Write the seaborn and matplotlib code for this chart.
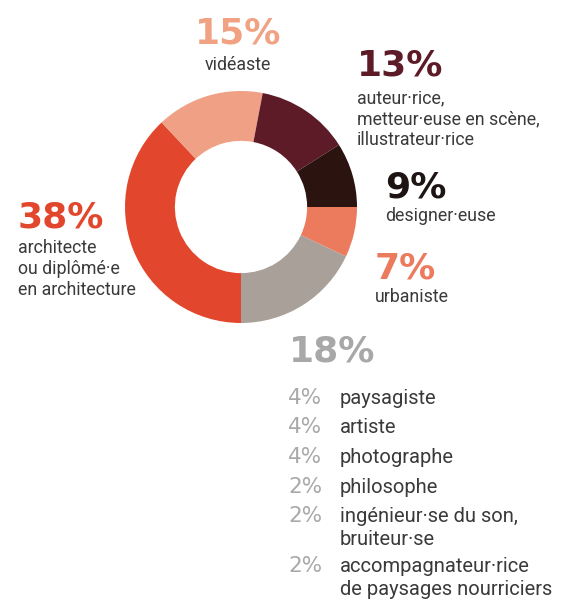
import matplotlib
matplotlib.use("Agg")
import matplotlib.pyplot as plt
import seaborn as sns

sns.set_theme(style="white")
plt.rcParams['font.family'] = ['Roboto', 'DejaVu Sans']

# donut data (clockwise from 6 o'clock)
shares = [38, 15, 13, 9, 7, 18]
pct_labels = ["38%", "15%", "13%", "9%", "7%", "18%"]
names = ["architecte\nou diplômé·e\nen architecture",
         "vidéaste",
         "auteur·rice,\nmetteur·euse en scène,\nillustrateur·rice",
         "designer·euse",
         "urbaniste",
         ""]
colors = ["#E2472D", "#EFA085", "#5C1B27", "#2B1410", "#EC7B5D", "#A9A199"]
text_colors = ["#E2472D", "#F0A283", "#5C1B27", "#1E1414", "#EC7B5D", "#A8A8A8"]

# breakdown of the 18% "other"
other_pct = ["4%", "4%", "4%", "2%", "2%", "2%"]
other_names = ["paysagiste", "artiste", "photographe", "philosophe",
               "ingénieur·se du son,\nbruiteur·se",
               "accompagnateur·rice\nde paysages nourriciers"]

W, H = 565, 600
fig = plt.figure(figsize=(W / 100, H / 100), dpi=100)
fig.patch.set_facecolor("white")

def px(x, y):
    return x / W, 1 - y / H

def lines(x, y, txt, step=21, **kw):
    # one text per line, baseline at y, y+step, ...
    for k, line in enumerate(txt.split("\n")):
        fig.text(*px(x, y + k * step), line, va="baseline", **kw)

# donut axes: centre (241, 207), radius 116 px
cx, cy, r = 241, 207, 116
ax = fig.add_axes([(cx - r) / W, 1 - (cy + r) / H, 2 * r / W, 2 * r / H])
ax.pie(shares, colors=colors, startangle=270, counterclock=False,
       radius=1, wedgeprops=dict(width=0.43, linewidth=0))
ax.set_xlim(-1, 1)
ax.set_ylim(-1, 1)
ax.axis("off")

big = 26
small = 12.8
big_font = ["DejaVu Sans"]

# label anchors: (x, y of big number, baseline of first text line, ha)
anchors = [
    (18, 217, 253, "left"),
    (238, 34, 70, "center"),
    (357, 66, 103, "left"),
    (385, 188, 221, "left"),
    (375, 269, 302, "left"),
]
for i, (x, yb, yt, ha) in enumerate(anchors):
    fig.text(*px(x, yb), pct_labels[i], color=text_colors[i], fontsize=big,
             fontweight="bold", family=big_font, ha=ha, va="center")
    lines(x, yt, names[i], color="#3A3A3A", fontsize=small, ha=ha)

# 18% block
fig.text(*px(289, 352), pct_labels[5], color=text_colors[5], fontsize=big,
         fontweight="bold", family=big_font, ha="left", va="center")
rows_y = [404, 433, 463, 493, 522, 572]
for p, n, y in zip(other_pct, other_names, rows_y):
    fig.text(*px(288, y), p, color="#A8A8A8", fontsize=15.5, family=big_font,
             ha="left", va="baseline")
    lines(340, y, n, step=23, color="#3A3A3A", fontsize=14.5, ha="left")

fig.savefig("out.png", dpi=100, facecolor="white")
